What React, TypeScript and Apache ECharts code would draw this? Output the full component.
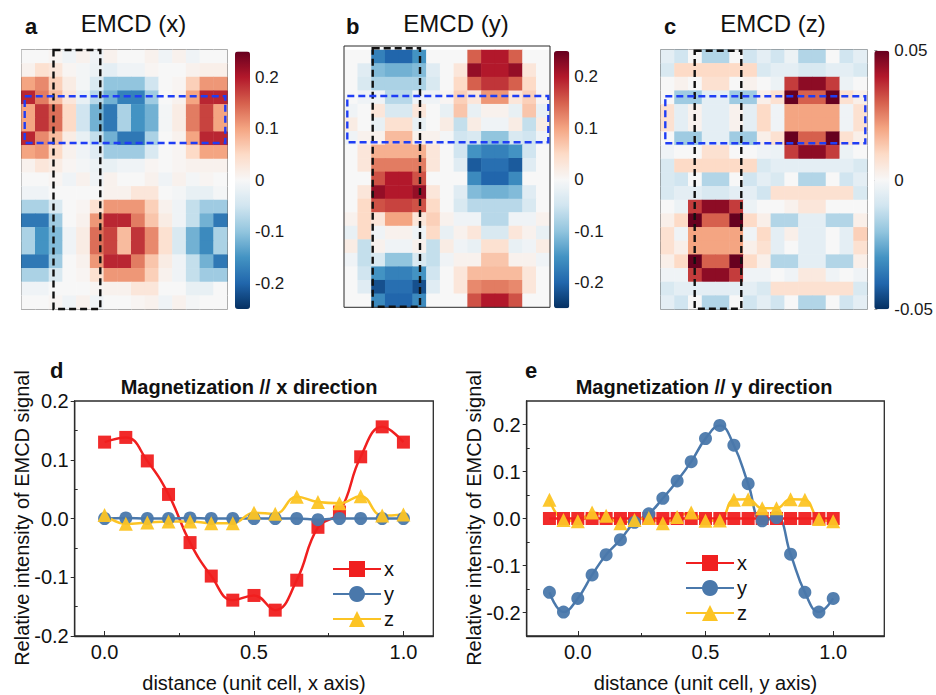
import React, { useEffect, useRef } from "react";
import * as echarts from "echarts";

// ---------- DATA ----------
// EMCD maps: 19 rows (top -> bottom) x 15 columns (left -> right)
const emcdX: number[][] = [
  [0, 0, 0.005, -0.01, 0.01, -0.01, 0.01, 0, 0, 0.01, -0.01, 0.01, -0.01, 0, 0],
  [0.01, 0.04, 0.03, 0.005, -0.005, -0.015, -0.025, -0.01, -0.01, 0.005, 0, 0, 0.01, 0.015, 0.015],
  [0.1, 0.12, 0.06, 0.02, -0.005, -0.04, -0.1, -0.1, -0.1, -0.05, 0, 0.005, 0.06, 0.11, 0.11],
  [0.19, 0.13, 0.08, 0.03, -0.02, -0.07, -0.12, -0.17, -0.17, -0.09, 0, 0.01, 0.1, 0.19, 0.19],
  [0.1, 0.18, 0.14, 0.05, -0.05, -0.12, -0.18, -0.08, -0.15, -0.12, -0.005, 0.02, 0.13, 0.17, 0.1],
  [0.1, 0.18, 0.14, 0.05, -0.05, -0.12, -0.18, -0.08, -0.15, -0.12, -0.005, 0.02, 0.13, 0.17, 0.1],
  [0.19, 0.12, 0.08, 0.02, -0.02, -0.06, -0.12, -0.18, -0.18, -0.08, 0, 0.01, 0.1, 0.19, 0.19],
  [0.1, 0.11, 0.05, 0.01, -0.01, -0.03, -0.09, -0.09, -0.09, -0.04, 0, 0.005, 0.05, 0.1, 0.1],
  [0.01, 0.03, 0.02, 0.005, -0.005, -0.015, -0.02, -0.01, -0.01, 0.005, 0, 0.005, 0.01, 0.01, 0.01],
  [0, 0, 0.005, -0.01, 0.01, -0.01, 0.01, 0, 0, 0.01, -0.01, 0.01, -0.005, 0.005, 0],
  [-0.01, -0.01, 0, 0, 0, 0, 0.01, 0.01, 0.03, 0.03, 0, -0.005, -0.02, -0.02, -0.005],
  [-0.08, -0.08, -0.04, 0, 0.005, 0.04, 0.11, 0.11, 0.11, 0.06, 0.01, -0.01, -0.06, -0.09, -0.09],
  [-0.18, -0.18, -0.09, 0, 0.01, 0.11, 0.19, 0.19, 0.13, 0.07, 0.02, -0.01, -0.06, -0.12, -0.18],
  [-0.08, -0.15, -0.11, -0.01, 0.02, 0.14, 0.17, 0.08, 0.18, 0.12, 0.04, -0.04, -0.12, -0.16, -0.08],
  [-0.08, -0.15, -0.11, -0.01, 0.02, 0.14, 0.17, 0.08, 0.18, 0.12, 0.04, -0.04, -0.12, -0.16, -0.08],
  [-0.18, -0.18, -0.09, 0, 0.01, 0.11, 0.19, 0.19, 0.13, 0.07, 0.02, -0.01, -0.06, -0.12, -0.18],
  [-0.08, -0.08, -0.04, 0, 0.005, 0.04, 0.11, 0.11, 0.11, 0.06, 0.01, -0.01, -0.06, -0.09, -0.09],
  [-0.01, -0.01, 0, 0, 0, 0.005, 0.01, 0.01, 0.03, 0.03, 0, 0, -0.02, -0.02, 0],
  [0, 0, 0.005, -0.01, 0.01, -0.01, 0, 0, 0.005, 0.01, -0.01, 0.01, -0.005, 0, 0],
];

const emcdY: number[][] = [
  [0, 0, -0.17, -0.2, -0.2, -0.15, 0, 0, 0, 0.15, 0.2, 0.2, 0.15, 0, 0],
  [0, -0.03, -0.11, -0.12, -0.12, -0.11, -0.03, 0, 0.03, 0.22, 0.2, 0.2, 0.22, 0.03, 0],
  [0, -0.04, -0.08, -0.08, -0.08, -0.08, -0.04, 0, 0.05, 0.15, 0.18, 0.18, 0.15, 0.05, 0],
  [0, -0.01, -0.01, -0.07, -0.07, -0.01, -0.01, 0.005, 0.06, 0.03, 0.11, 0.11, 0.03, 0.06, 0.005],
  [-0.01, 0, 0.03, -0.04, -0.04, 0.03, 0, -0.02, 0.07, -0.02, 0.01, 0.01, -0.02, 0.07, -0.02],
  [0.02, 0, -0.02, 0.04, 0.04, -0.02, 0, 0.02, -0.06, 0.02, -0.01, -0.01, 0.02, -0.06, 0.02],
  [-0.01, 0.01, 0.01, 0.08, 0.08, 0.01, 0.01, -0.005, -0.05, -0.04, -0.1, -0.1, -0.04, -0.05, -0.01],
  [0, 0.03, 0.09, 0.09, 0.09, 0.09, 0.03, 0, -0.05, -0.15, -0.17, -0.17, -0.15, -0.05, 0],
  [0, 0.03, 0.13, 0.13, 0.13, 0.13, 0.03, 0, -0.03, -0.21, -0.19, -0.19, -0.21, -0.03, 0],
  [0, 0, 0.16, 0.2, 0.2, 0.16, 0, 0, 0, -0.16, -0.2, -0.2, -0.16, 0, 0],
  [0, 0.03, 0.22, 0.2, 0.2, 0.22, 0.03, 0, -0.03, -0.11, -0.12, -0.12, -0.11, -0.03, 0],
  [0, 0.05, 0.16, 0.17, 0.17, 0.16, 0.05, 0, -0.04, -0.07, -0.07, -0.07, -0.07, -0.04, 0],
  [0.01, 0.05, 0.03, 0.1, 0.1, 0.03, 0.06, 0.01, -0.01, -0.01, -0.07, -0.07, -0.01, -0.01, 0.01],
  [-0.02, 0.05, -0.01, 0.01, 0.01, -0.01, 0.05, -0.02, 0.01, 0.03, -0.04, -0.04, 0.03, 0.01, -0.02],
  [0.02, -0.06, 0.01, -0.01, -0.01, 0.01, -0.06, 0.02, -0.01, -0.02, 0.04, 0.04, -0.02, -0.01, 0.02],
  [-0.01, -0.06, -0.04, -0.1, -0.1, -0.04, -0.06, -0.01, 0.01, 0.01, 0.07, 0.07, 0.01, 0.01, -0.01],
  [0, -0.05, -0.15, -0.17, -0.17, -0.15, -0.05, 0, 0.03, 0.08, 0.08, 0.08, 0.08, 0.03, 0],
  [0, -0.03, -0.22, -0.19, -0.19, -0.22, -0.03, 0, 0.03, 0.12, 0.13, 0.13, 0.12, 0.03, 0],
  [0, 0, -0.16, -0.2, -0.2, -0.16, 0, 0, 0, 0.16, 0.2, 0.2, 0.16, 0, 0],
];

const emcdZ: number[][] = [
  [-0.005, -0.01, 0, -0.015, -0.015, 0, -0.01, -0.005, -0.01, -0.003, -0.015, -0.015, 0, -0.01, -0.005],
  [-0.008, 0.01, 0.01, 0.01, 0.01, 0.01, 0.01, -0.008, -0.005, -0.005, -0.008, -0.008, -0.005, -0.005, -0.008],
  [0, 0.002, 0, 0.008, 0.008, 0, 0.002, 0, -0.003, 0.035, 0.045, 0.045, 0.035, -0.003, 0],
  [0, -0.018, -0.018, -0.005, -0.005, -0.018, -0.018, 0.003, 0.008, 0.05, 0.03, 0.03, 0.05, 0.008, 0.003],
  [0.008, -0.005, 0.002, -0.005, -0.005, 0.002, -0.005, 0.01, -0.002, 0.02, 0.02, 0.02, 0.02, -0.002, 0.008],
  [0.008, -0.005, 0.002, -0.005, -0.005, 0.002, -0.005, 0.01, -0.002, 0.02, 0.02, 0.02, 0.02, -0.002, 0.008],
  [0, -0.018, -0.018, -0.005, -0.005, -0.018, -0.018, 0.003, 0.008, 0.05, 0.03, 0.03, 0.05, 0.008, 0.003],
  [-0.002, 0, 0, 0.008, 0.008, 0, 0, -0.002, -0.003, 0.035, 0.045, 0.045, 0.035, -0.003, 0],
  [-0.008, 0.01, 0.01, 0.01, 0.01, 0.01, 0.01, -0.008, -0.005, -0.005, -0.005, -0.005, -0.005, -0.005, -0.008],
  [-0.008, -0.01, 0, -0.015, -0.015, 0, -0.01, -0.005, -0.008, 0, -0.015, -0.015, 0, -0.01, -0.005],
  [-0.008, -0.005, -0.005, -0.008, -0.008, -0.005, -0.005, -0.01, 0.008, 0.008, 0.008, 0.008, 0.008, 0.008, -0.008],
  [0, -0.003, 0.035, 0.045, 0.045, 0.035, -0.003, 0, 0, 0.002, 0.006, 0.006, 0, 0, 0],
  [0.003, 0.01, 0.05, 0.03, 0.03, 0.05, 0.01, 0.003, -0.015, -0.015, -0.005, -0.005, -0.015, -0.015, 0.003],
  [0.008, -0.002, 0.02, 0.02, 0.02, 0.02, -0.002, 0.01, -0.005, 0.003, -0.005, -0.005, 0, -0.005, 0.012],
  [0.008, 0.003, 0.02, 0.02, 0.02, 0.02, 0.003, 0.008, -0.005, 0, -0.005, -0.005, 0, -0.005, 0.008],
  [0.003, 0.01, 0.05, 0.03, 0.03, 0.05, 0.01, 0.003, -0.015, -0.015, -0.005, -0.005, -0.015, -0.015, 0.003],
  [-0.002, -0.002, 0.035, 0.045, 0.045, 0.035, -0.002, -0.002, 0, -0.002, 0.005, 0.005, -0.002, 0, -0.002],
  [-0.008, -0.005, -0.005, -0.005, -0.005, -0.005, -0.005, -0.008, 0.008, 0.008, 0.008, 0.008, 0.008, 0.008, -0.008],
  [-0.005, -0.01, 0, -0.015, -0.015, 0, -0.01, -0.005, -0.01, 0, -0.015, -0.015, 0, -0.01, -0.005],
];

// colour-bar ranges and tick labels
const rangeXY = [-0.25, 0.25];
const rangeZ = [-0.05, 0.05];
const ticksXY = [-0.2, -0.1, 0, 0.1, 0.2];
const ticksZ = [-0.05, 0, 0.05];

// panel d: profile along x (unit cell)
const distX = [0, 0.071, 0.143, 0.214, 0.286, 0.357, 0.429, 0.5, 0.571, 0.643, 0.714, 0.786, 0.857, 0.929, 1.0];
const dSeriesX = [0.13, 0.138, 0.098, 0.041, -0.041, -0.098, -0.139, -0.131, -0.156, -0.105, -0.015, 0.011, 0.105, 0.156, 0.13];
const dSeriesY = [0, 0.001, 0, 0, 0.001, 0, 0, 0, 0, 0, -0.002, 0, 0, 0, 0];
const dSeriesZ = [0.006, -0.009, -0.007, -0.005, -0.005, -0.008, -0.008, 0.01, 0.008, 0.037, 0.028, 0.026, 0.038, 0.005, 0.007];

// panel e: profile along y (unit cell)
const distY = [-0.111, -0.056, 0, 0.056, 0.111, 0.167, 0.222, 0.278, 0.333, 0.389, 0.444, 0.5, 0.556, 0.611, 0.667, 0.722, 0.778, 0.833, 0.889, 0.944, 1.0];
const eSeriesX = [0, 0, 0, 0, 0, 0, 0, 0, 0, 0, 0, 0, 0, 0, 0, 0, 0, 0, 0, 0, 0];
const eSeriesY = [-0.157, -0.199, -0.17, -0.12, -0.077, -0.045, -0.008, 0.01, 0.043, 0.08, 0.121, 0.17, 0.198, 0.156, 0.074, -0.005, 0.002, -0.076, -0.157, -0.199, -0.17];
const eSeriesZ = [0.04, -0.003, -0.006, 0.013, 0.006, -0.01, -0.003, 0.001, -0.01, 0.003, 0.013, -0.005, -0.004, 0.04, 0.041, 0.022, 0.022, 0.041, 0.04, -0.001, -0.006];

const dTicksX = [0, 0.5, 1.0];
const dMinorX = [0.25, 0.75];
const dTicksY = [-0.2, -0.1, 0, 0.1, 0.2];
const dMinorY = [-0.15, -0.05, 0.05, 0.15];
const eTicksY = [-0.2, -0.1, 0, 0.1, 0.2];
const eMinorY = [-0.15, -0.05, 0.05, 0.15];

// ---------- STYLE ----------
const FONT = '"Liberation Sans", Arial, Helvetica, sans-serif';
const RDBU = ["#053061", "#2166ac", "#4393c3", "#92c5de", "#d1e5f0", "#f7f7f7", "#fddbc7", "#f4a582", "#d6604d", "#b2182b", "#67001f"];
const RED = "#f01f1f";
const BLUE = "#4a78ab";
const YELLOW = "#fcc424";
const FRAME = "#2b2b2b";

const heatGrids = [
  { left: 21.5, top: 49.7, width: 205.8, height: 259.6, show: true, borderColor: FRAME, borderWidth: 1 },
  { left: 344, top: 50, width: 206, height: 257.3, show: false },
  { left: 660.7, top: 49.7, width: 206.6, height: 259.6, show: true, borderColor: FRAME, borderWidth: 1 },
];
const barGrids = [
  { left: 235, top: 51.5, width: 15, height: 257.5 },
  { left: 554, top: 51, width: 15.3, height: 257.3 },
  { left: 874.3, top: 50.7, width: 15, height: 258.6 },
];
const lineGrids = [
  { left: 74.7, top: 401, width: 358.6, height: 235 },
  { left: 526.7, top: 401, width: 357.6, height: 235 },
];

function App() {
  const ref = useRef<HTMLDivElement>(null);

  useEffect(() => {
    if (!ref.current) return;
    const chart = echarts.init(ref.current, undefined, { renderer: "svg" });

    const cols = emcdX[0].map((_, i) => String(i));
    const rows = emcdX.map((_, i) => String(i));
    const toCells = (m: number[][]) => m.flatMap((row, r) => row.map((v, c) => [c, r, v]));
    const maps = [emcdX, emcdY, emcdZ];

    const grid: any[] = [
      ...heatGrids,
      ...barGrids.map((g) => ({ ...g, show: false })),
      ...lineGrids.map((g) => ({ ...g, show: true, borderColor: FRAME, borderWidth: 1.3 })),
    ];

    const xAxis: any[] = [];
    const yAxis: any[] = [];
    for (let i = 0; i < 3; i++) {
      xAxis.push({ type: "category", gridIndex: i, data: cols, show: false });
      yAxis.push({ type: "category", gridIndex: i, data: rows, inverse: true, show: false });
    }
    for (let i = 0; i < 3; i++) {
      const isZ = i === 2;
      const rng = isZ ? rangeZ : rangeXY;
      const tks = isZ ? ticksZ : ticksXY;
      xAxis.push({ type: "value", gridIndex: 3 + i, show: false, min: 0, max: 1 });
      yAxis.push({
        type: "value",
        gridIndex: 3 + i,
        min: rng[0],
        max: rng[1],
        position: "right",
        axisLine: { show: false },
        splitLine: { show: false },
        axisTick: { show: true, customValues: tks, length: 3, lineStyle: { color: "#999", width: 1 } },
        axisLabel: { customValues: tks, fontSize: 17, color: "#1a1a1a", fontFamily: FONT, margin: 5 },
      });
    }
    const axisLabelStyle = { fontSize: 20, color: "#111", fontFamily: FONT };
    const lineAx = { show: true, onZero: false, lineStyle: { color: FRAME, width: 1.3 } };
    xAxis.push({
      type: "value", gridIndex: 6, min: -0.1, max: 1.1, splitLine: { show: false },
      axisLine: lineAx,
      axisTick: { inside: true, length: 5, customValues: dTicksX, lineStyle: { color: FRAME } },
      axisLabel: { ...axisLabelStyle, customValues: dTicksX, margin: 6, formatter: (v: number) => v.toFixed(1) },
      name: "distance (unit cell, x axis)", nameLocation: "middle", nameGap: 37,
      nameTextStyle: { fontSize: 20, color: "#111", fontFamily: FONT },
    });
    xAxis.push({
      type: "value", gridIndex: 6, min: -0.1, max: 1.1, position: "bottom", splitLine: { show: false },
      axisLine: { show: false, onZero: false }, axisLabel: { show: false },
      axisTick: { inside: true, length: 3, customValues: dMinorX, lineStyle: { color: FRAME } },
    });
    xAxis.push({
      type: "value", gridIndex: 7, min: -0.2, max: 1.2, splitLine: { show: false },
      axisLine: lineAx,
      axisTick: { inside: true, length: 5, customValues: dTicksX, lineStyle: { color: FRAME } },
      axisLabel: { ...axisLabelStyle, customValues: dTicksX, margin: 6, formatter: (v: number) => v.toFixed(1) },
      name: "distance (unit cell, y axis)", nameLocation: "middle", nameGap: 37,
      nameTextStyle: { fontSize: 20, color: "#111", fontFamily: FONT },
    });
    xAxis.push({
      type: "value", gridIndex: 7, min: -0.2, max: 1.2, position: "bottom", splitLine: { show: false },
      axisLine: { show: false, onZero: false }, axisLabel: { show: false },
      axisTick: { inside: true, length: 3, customValues: dMinorX, lineStyle: { color: FRAME } },
    });
    const yMain = (gi: number, min: number, max: number, tks: number[]) => ({
      type: "value", gridIndex: gi, min, max, position: "left", splitLine: { show: false },
      axisLine: lineAx,
      axisTick: { inside: false, length: 4, customValues: tks, lineStyle: { color: FRAME } },
      axisLabel: { ...axisLabelStyle, customValues: tks, margin: 6, formatter: (v: number) => v.toFixed(1) },
    });
    const yMinor = (gi: number, min: number, max: number, tks: number[]) => ({
      type: "value", gridIndex: gi, min, max, position: "left", splitLine: { show: false },
      axisLine: { show: false, onZero: false }, axisLabel: { show: false },
      axisTick: { inside: true, length: 3, customValues: tks, lineStyle: { color: FRAME } },
    });
    yAxis.push(yMain(6, -0.2, 0.2, dTicksY));
    yAxis.push(yMinor(6, -0.2, 0.2, dMinorY));
    yAxis.push(yMain(7, -0.25, 0.25, eTicksY));
    yAxis.push(yMinor(7, -0.25, 0.25, eMinorY));

    const series: any[] = maps.map((m, i) => ({
      type: "heatmap",
      xAxisIndex: i,
      yAxisIndex: i,
      data: toCells(m),
      itemStyle: { borderWidth: 0 },
      emphasis: { disabled: true },
    }));

    const lineSeries = (
      name: string, xs: number[], ys: number[], color: string, symbol: string, size: number,
      xi: number, yi: number
    ) => ({
      type: "line",
      name,
      xAxisIndex: xi,
      yAxisIndex: yi,
      data: xs.map((x, k) => [x, ys[k]]),
      smooth: 0.45,
      symbol,
      symbolSize: size,
      showAllSymbol: true,
      lineStyle: { color, width: 2.5 },
      itemStyle: { color, opacity: 0.95 },
      emphasis: { disabled: true },
      z: 3,
    });
    series.push(lineSeries("x", distX, dSeriesX, RED, "rect", 13, 6, 6));
    series.push(lineSeries("y", distX, dSeriesY, BLUE, "circle", 13, 6, 6));
    series.push(lineSeries("z", distX, dSeriesZ, YELLOW, "triangle", 14, 6, 6));
    series.push(lineSeries("x", distY, eSeriesX, RED, "rect", 13, 8, 8));
    series.push(lineSeries("y", distY, eSeriesY, BLUE, "circle", 13, 8, 8));
    series.push(lineSeries("z", distY, eSeriesZ, YELLOW, "triangle", 14, 8, 8));

    const visualMap: any[] = [0, 1, 2].map((i) => {
      const rng = i === 2 ? rangeZ : rangeXY;
      const g = barGrids[i];
      return {
        type: "continuous",
        seriesIndex: i,
        min: rng[0],
        max: rng[1],
        inRange: { color: RDBU },
        orient: "vertical",
        left: g.left,
        top: g.top,
        itemWidth: g.width,
        itemHeight: g.height,
        calculable: false,
        hoverLink: false,
        padding: 0,
        text: null,
        showLabel: false,
      };
    });

    const legendBase = {
      orient: "vertical",
      itemWidth: 48,
      itemHeight: 20,
      itemGap: 5,
      padding: 0,
      itemStyle: { opacity: 1 },
      textStyle: { fontSize: 20, lineHeight: 20, color: "#111", fontFamily: FONT, padding: [0, 0, 0, -2] },
      data: ["x", "y", "z"],
      selectedMode: false,
    };
    const legend = [
      { ...legendBase, left: 332, top: 559 },
      { ...legendBase, left: 685, top: 553 },
    ];

    const txt = (text: string, x: number, y: number, size: number, bold = false, align = "center", rot = 0) => ({
      type: "text",
      x,
      y,
      rotation: rot,
      z: 100,
      silent: true,
      style: {
        text,
        fill: "#111",
        font: `${bold ? "bold " : ""}${size}px ${FONT}`,
        textAlign: align,
        textVerticalAlign: "middle",
      },
    });
    const dashRect = (x: number, y: number, w: number, h: number, color: string) => ({
      type: "rect",
      z: 100,
      silent: true,
      shape: { x, y, width: w, height: h },
      style: { fill: "none", stroke: color, lineWidth: 2.4, lineDash: [7, 4] },
    });
    const BLK = "#111";
    const BLU = "#1f3df5";
    const graphic: any[] = [
      txt("a", 25, 26, 22, true, "left"),
      txt("EMCD (x)", 133.5, 23.5, 24),
      txt("b", 346, 26, 22, true, "left"),
      txt("EMCD (y)", 456, 23.5, 24),
      txt("c", 664, 26, 22, true, "left"),
      txt("EMCD (z)", 773, 23.5, 24),
      {
        type: "rect", z: 90, silent: true,
        shape: { x: 344, y: 46, width: 206, height: 261.3 },
        style: { fill: "none", stroke: FRAME, lineWidth: 1 },
      },
      dashRect(53.5, 50, 46.8, 259, BLK),
      dashRect(24.7, 96.3, 200.6, 46.7, BLU),
      dashRect(372.7, 48.3, 47.3, 258.4, BLK),
      dashRect(347.3, 96, 201, 46.3, BLU),
      dashRect(694.7, 50.7, 46.6, 258, BLK),
      dashRect(665.3, 96.3, 200, 47, BLU),
      txt("d", 50, 370, 22, true, "left"),
      txt("e", 525, 370, 22, true, "left"),
      txt("Magnetization // x direction", 249, 387, 20, true),
      txt("Magnetization // y direction", 704, 387, 20, true),
      txt("Relative intensity of EMCD signal", 22, 518, 20, false, "center", Math.PI / 2),
      txt("Relative intensity of EMCD signal", 474, 518, 20, false, "center", Math.PI / 2),
    ];

    chart.setOption({
      animation: false,
      backgroundColor: "#ffffff",
      textStyle: { fontFamily: FONT },
      grid,
      xAxis,
      yAxis,
      series,
      visualMap,
      legend,
      graphic,
    });

    return () => chart.dispose();
  }, []);

  return (
    <div
      ref={ref}
      style={{ position: "fixed", left: 0, top: 0, width: 936, height: 695, background: "#fff" }}
    />
  );
}

export default App;
